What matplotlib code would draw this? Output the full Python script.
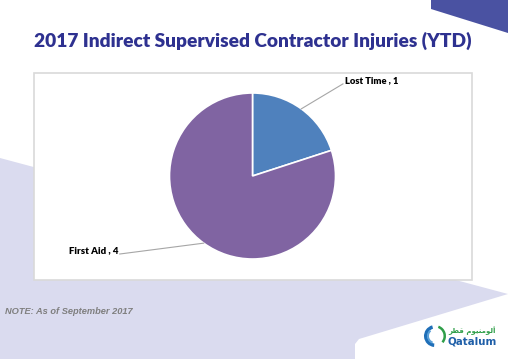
import matplotlib
matplotlib.use("Agg")
import matplotlib.pyplot as plt
from matplotlib.patches import Polygon, Rectangle, Wedge
import numpy as np

# data
categories = ["Lost Time", "First Aid"]
values = [1, 4]
colors = ["#4f81bd", "#8064a2"]
title = "2017 Indirect Supervised Contractor Injuries (YTD)"
note = "NOTE: As of September 2017"
# Arabic logo text, pre-shaped (presentation forms, visual order)
logo_ar = "\uFEAE\uFEC4\uFED7 \uFEE1\uFEEE\uFEF4\uFEE8\uFEE3\uFEEE\uFEDF\uFE83"
logo_en = "Qatalum"

W, H = 508, 359
fig = plt.figure(figsize=(W / 100, H / 100), dpi=100)
fig.patch.set_facecolor("white")

# background axes in pixel coordinates
bg = fig.add_axes([0, 0, 1, 1])
bg.set_xlim(0, W)
bg.set_ylim(H, 0)
bg.axis("off")

# slide decorations
bg.add_patch(Polygon([(0, 158), (508, 294), (359, 339), (355, 344), (355, 359), (0, 359)],
                     closed=True, facecolor="#dadbef", edgecolor="none"))
bg.add_patch(Polygon([(431, 0), (431, 9), (508, 33), (508, 0)],
                     closed=True, facecolor="#4a52a2", edgecolor="none"))
bg.add_patch(Rectangle((34, 73), 438, 207, facecolor="white",
                       edgecolor="#d9d9d9", linewidth=1.2))

renderer = fig.canvas.get_renderer()


def fit_text(ax, x, y, s, width, **kw):
    t = ax.text(x, y, s, **kw)
    fs = t.get_fontsize()
    w = t.get_window_extent(renderer=renderer).width
    t.set_fontsize(fs * width / w)
    return t


fit_text(bg, 253, 41, title, 440, ha="center", va="center",
         color="#2e3190", fontweight="heavy", family="Lato", fontsize=15)
fit_text(bg, 5, 312, note, 128, ha="left", va="center", color="#7f7f7f",
         fontweight="bold", fontstyle="italic", family="Liberation Sans", fontsize=7)

# logo
lc = (435, 336)
bg.add_patch(Wedge(lc, 11, 95, 255, width=3.5, facecolor="#1f6fb8", edgecolor="none"))
bg.add_patch(Wedge(lc, 8, 110, 230, width=2, facecolor="#5aa0d8", edgecolor="none"))
bg.add_patch(Wedge(lc, 11, -70, 40, width=2.5, facecolor="#2e9e48", edgecolor="none"))
fit_text(bg, 448, 331, logo_ar, 47, ha="left", va="center", color="#2e9e48",
         fontweight="bold", family="DejaVu Sans", fontsize=7)
fit_text(bg, 447, 342, logo_en, 49, ha="left", va="center", color="#1f5fa8",
         fontweight="bold", family="DejaVu Sans", fontsize=8)

# pie axes: center (252.5, 176), radius 83 px
cx, cy, r = 252.5, 176, 83
ax = fig.add_axes([(cx - r) / W, 1 - (cy + r) / H, 2 * r / W, 2 * r / H])
wedges, _ = ax.pie(values, colors=colors, startangle=90, counterclock=False,
                   wedgeprops=dict(edgecolor="white", linewidth=1.2))
ax.set_xlim(-1, 1)
ax.set_ylim(-1, 1)
ax.set_clip_on(False)

label_ends = [(1.09, 1.11), (-1.60, -0.94)]
for w, cat, v, end in zip(wedges, categories, values, label_ends):
    th = np.deg2rad((w.theta1 + w.theta2) / 2)
    p0 = (np.cos(th) * 1.0, np.sin(th) * 1.0)
    ax.plot([p0[0], end[0]], [p0[1], end[1]], color="#a6a6a6", lw=0.8, clip_on=False)
    if end[0] > 0:
        fit_text(ax, end[0] + 0.03, end[1] + 0.04, f"{cat} , {v}", 54, ha="left",
                 va="center", fontweight="heavy", family="Lato", fontsize=7, color="black")
    else:
        fit_text(ax, end[0] - 0.02, end[1] + 0.04, f"{cat} , {v}", 49, ha="right",
                 va="center", fontweight="heavy", family="Lato", fontsize=7, color="black")

fig.savefig("out.png", dpi=100, facecolor="white")
